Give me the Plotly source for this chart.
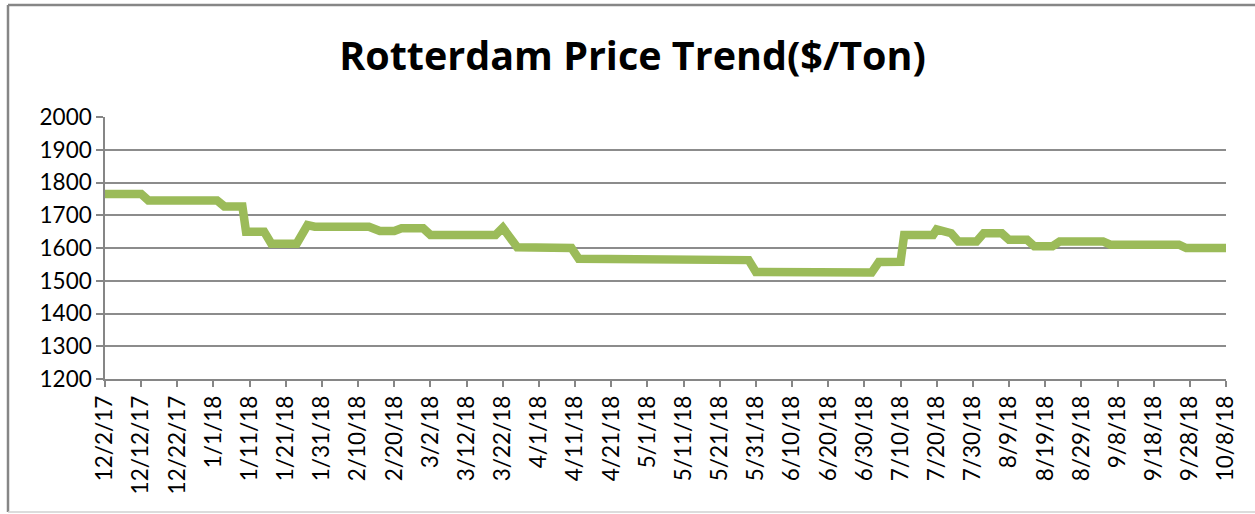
import plotly.graph_objects as go

# Data
dates = ["2017-12-02", "2017-12-12", "2017-12-14", "2018-01-02", "2018-01-04", "2018-01-09",
         "2018-01-10", "2018-01-15", "2018-01-17", "2018-01-24", "2018-01-27", "2018-01-29",
         "2018-02-13", "2018-02-16", "2018-02-20", "2018-02-22", "2018-02-28", "2018-03-02",
         "2018-03-20", "2018-03-22", "2018-03-26", "2018-04-10", "2018-04-12", "2018-05-29",
         "2018-05-31", "2018-07-02", "2018-07-04", "2018-07-10", "2018-07-11", "2018-07-19",
         "2018-07-20", "2018-07-23", "2018-07-24", "2018-07-26", "2018-07-31", "2018-08-02",
         "2018-08-07", "2018-08-09", "2018-08-14", "2018-08-16", "2018-08-21", "2018-08-23",
         "2018-09-04", "2018-09-06", "2018-09-25", "2018-09-27", "2018-10-08"]
prices = [1765, 1765, 1745, 1745, 1727, 1727,
          1650, 1650, 1613, 1613, 1670, 1665,
          1665, 1652, 1652, 1660, 1660, 1640,
          1640, 1662, 1602, 1600, 1567, 1563,
          1527, 1525, 1557, 1558, 1640, 1640,
          1657, 1645, 1645, 1620, 1620, 1645,
          1645, 1625, 1625, 1605, 1605, 1620,
          1620, 1610, 1610, 1600, 1600]

tick_dates = ["2017-12-02", "2017-12-12", "2017-12-22", "2018-01-01", "2018-01-11", "2018-01-21",
              "2018-01-31", "2018-02-10", "2018-02-20", "2018-03-02", "2018-03-12", "2018-03-22",
              "2018-04-01", "2018-04-11", "2018-04-21", "2018-05-01", "2018-05-11", "2018-05-21",
              "2018-05-31", "2018-06-10", "2018-06-20", "2018-06-30", "2018-07-10", "2018-07-20",
              "2018-07-30", "2018-08-09", "2018-08-19", "2018-08-29", "2018-09-08", "2018-09-18",
              "2018-09-28", "2018-10-08"]
tick_labels = ["12/2/17", "12/12/17", "12/22/17", "1/1/18", "1/11/18", "1/21/18",
               "1/31/18", "2/10/18", "2/20/18", "3/2/18", "3/12/18", "3/22/18",
               "4/1/18", "4/11/18", "4/21/18", "5/1/18", "5/11/18", "5/21/18",
               "5/31/18", "6/10/18", "6/20/18", "6/30/18", "7/10/18", "7/20/18",
               "7/30/18", "8/9/18", "8/19/18", "8/29/18", "9/8/18", "9/18/18",
               "9/28/18", "10/8/18"]
y_ticks = [1200, 1300, 1400, 1500, 1600, 1700, 1800, 1900, 2000]

W, H = 1255, 514
L, R, T, B = 105, 29, 117, 135
pw, ph = W - L - R, H - T - B

fig = go.Figure()
fig.add_trace(go.Scatter(
    x=dates, y=prices, mode="lines",
    line=dict(color="#9BBB59", width=8.5, shape="linear"),
    showlegend=False, hoverinfo="x+y"))

font_family = "Lato, 'Open Sans', sans-serif"
fig.update_layout(
    width=W, height=H,
    margin=dict(l=L, r=R, t=T, b=B, autoexpand=False),
    paper_bgcolor="white", plot_bgcolor="white",
    title=dict(text="<b>Rotterdam Price Trend($/Ton)</b>", x=0.504, xanchor="center",
               y=1 - 56 / H, yanchor="middle", yref="container",
               font=dict(family="'Open Sans', sans-serif", size=39.5, color="black")),
    xaxis=dict(type="date", range=[tick_dates[0], tick_dates[-1]],
               tickmode="array", tickvals=tick_dates, ticktext=tick_labels,
               tickangle=-90, ticks="outside", ticklen=6, tickcolor="#868686",
               tickwidth=1.5, showline=True, linecolor="#868686", linewidth=1.5,
               showgrid=False, zeroline=False,
               tickfont=dict(family=font_family, size=22.5, color="black")),
    yaxis=dict(range=[1200, 2000], tickmode="array", tickvals=y_ticks,
               ticks="outside", ticklen=7, tickcolor="#868686", tickwidth=1.5,
               showline=True, linecolor="#868686", linewidth=1.5,
               showgrid=True, gridcolor="#8c8c8c", gridwidth=1.5, zeroline=False,
               tickfont=dict(family=font_family, size=22.5, color="black")),
)

# chart-area border
def px2x(px):
    return (px - L) / pw

def px2y(py):
    return (H - B - py) / ph

fig.add_shape(type="line", xref="paper", yref="paper",
              x0=px2x(8), x1=px2x(1260), y0=px2y(5), y1=px2y(5),
              line=dict(color="#868686", width=2.5))
fig.add_shape(type="line", xref="paper", yref="paper",
              x0=px2x(8), x1=px2x(8), y0=px2y(5), y1=px2y(512),
              line=dict(color="#868686", width=2.5))
fig.add_shape(type="line", xref="paper", yref="paper",
              x0=px2x(8), x1=px2x(1260), y0=px2y(512), y1=px2y(512),
              line=dict(color="#d0d0d0", width=1.5))

fig.write_html("out.html", config={"displayModeBar": False},
               post_script="document.body.style.margin='0';")
